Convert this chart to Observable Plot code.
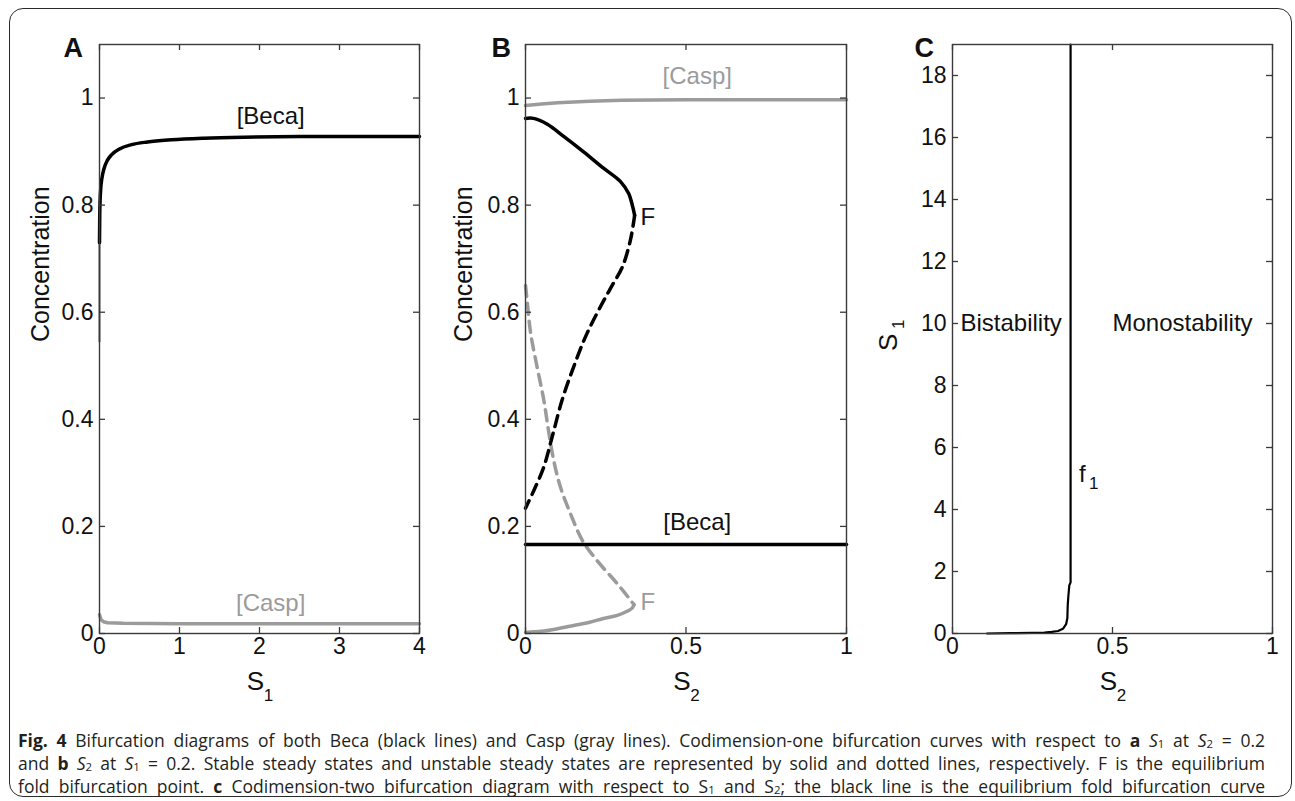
<!DOCTYPE html>
<html><head><meta charset="utf-8">
<script src="https://cdn.jsdelivr.net/npm/d3@7"></script>
<script src="https://cdn.jsdelivr.net/npm/@observablehq/plot@0.6"></script>
<style>
html,body{margin:0;padding:0;background:#fff;}
body{width:1295px;height:801px;position:relative;overflow:hidden;font-family:Arial,"Liberation Sans",sans-serif;}
#border{position:absolute;left:9px;top:8px;width:1283px;height:789px;border:1.6px solid #2a2a2a;border-radius:14px;box-sizing:border-box;}
.panel{position:absolute;top:10px;}
#caption{position:absolute;left:18px;top:729px;width:1247px;font-family:"Open Sans","Noto Sans",sans-serif;font-size:16px;line-height:23px;color:#231f20;}
#caption div{white-space:nowrap;text-align:left;height:23px;overflow:visible;}
#caption.just div{text-align:justify;text-align-last:justify;}
#caption sub{font-size:65%;vertical-align:-0.12em;line-height:0;}
</style></head>
<body>
<div id="border"></div>
<div id="pA" class="panel" style="left:12px"></div>
<div id="pB" class="panel" style="left:432px"></div>
<div id="pC" class="panel" style="left:862px"></div>
<div id="caption">
<div><span><b>Fig. 4</b> Bifurcation diagrams of both Beca (black lines) and Casp (gray lines). Codimension-one bifurcation curves with respect to <b>a</b> <i>S</i><sub>1</sub> at <i>S</i><sub>2</sub> = 0.2</span></div>
<div><span>and <b>b</b> <i>S</i><sub>2</sub> at <i>S</i><sub>1</sub> = 0.2. Stable steady states and unstable steady states are represented by solid and dotted lines, respectively. F is the equilibrium</span></div>
<div><span>fold bifurcation point. <b>c</b> Codimension-two bifurcation diagram with respect to S<sub>1</sub> and S<sub>2</sub>; the black line is the equilibrium fold bifurcation curve</span></div>
</div>
<script>
// ---------- Panel A data (x = S1, S2 = 0.2) ----------
const aXTicks = [0, 1, 2, 3, 4];
const concTicks = [0, 0.2, 0.4, 0.6, 0.8, 1];
const aBecaS1 = [0, 0.003, 0.008, 0.015, 0.03, 0.06, 0.1, 0.15, 0.25, 0.4, 0.6, 0.9, 1.3, 1.8, 2.5, 3.2, 4];
const aBeca   = [0.73, 0.78, 0.81, 0.83, 0.85, 0.87, 0.884, 0.894, 0.905, 0.913, 0.918, 0.922, 0.925, 0.927, 0.928, 0.928, 0.928];
const aBecaThinS1 = [0, 0];
const aBecaThin   = [0.545, 0.73];
const aCaspS1 = [0, 0.02, 0.05, 0.1, 0.3, 1, 2, 3, 4];
const aCasp   = [0.035, 0.026, 0.022, 0.02, 0.019, 0.018, 0.018, 0.018, 0.018];

// ---------- Panel B data (x = S2, S1 = 0.2) ----------
const bXTicks = [0, 0.5, 1];
const bCaspHiS2 = [0, 0.05, 0.1, 0.2, 0.3, 0.5, 1];
const bCaspHi   = [0.986, 0.989, 0.991, 0.994, 0.996, 0.997, 0.997];
const bBecaHiS2 = [0, 0.025, 0.068, 0.12, 0.18, 0.243, 0.296, 0.321, 0.334, 0.34];
const bBecaHi   = [0.962, 0.962, 0.951, 0.928, 0.90, 0.869, 0.844, 0.822, 0.797, 0.781];
const bBecaUnS2 = [0.34, 0.327, 0.302, 0.27, 0.244, 0.192, 0.15, 0.114, 0.083, 0.057, 0.026, 0];
const bBecaUn   = [0.781, 0.735, 0.685, 0.65, 0.622, 0.561, 0.498, 0.436, 0.367, 0.311, 0.267, 0.234];
const bCaspUnS2 = [0, 0.005, 0.016, 0.036, 0.057, 0.073, 0.088, 0.109, 0.14, 0.177, 0.223, 0.286, 0.338];
const bCaspUn   = [0.65, 0.622, 0.561, 0.498, 0.436, 0.374, 0.323, 0.273, 0.224, 0.174, 0.136, 0.093, 0.054];
const bCaspLoS2 = [0.338, 0.333, 0.315, 0.286, 0.243, 0.2, 0.15, 0.1, 0.05, 0];
const bCaspLo   = [0.054, 0.048, 0.041, 0.034, 0.028, 0.021, 0.015, 0.009, 0.004, 0.002];
const bBecaLoS2 = [0, 1];
const bBecaLo   = [0.166, 0.166];

// ---------- Panel C data (fold curve f1 in S2-S1 plane) ----------
const cXTicks = [0, 0.5, 1];
const cYTicks = [0, 2, 4, 6, 8, 10, 12, 14, 16, 18];
const cFoldS2 = [0.108, 0.18, 0.25, 0.287, 0.31, 0.33, 0.345, 0.355, 0.359, 0.36, 0.362, 0.365, 0.369, 0.369];
const cFoldS1 = [0.0, 0.01, 0.02, 0.03, 0.05, 0.08, 0.15, 0.3, 0.5, 0.9, 1.2, 1.55, 1.65, 19];

const GRAY = "#9b9b9b";
const FONT = "Arial, 'Liberation Sans', sans-serif";
const pts = (xs, ys) => xs.map((x, i) => ({x, y: ys[i]}));

function panel({width, marginLeft, marginRight, xDomain, yDomain, xTicks, yTicks, marks}) {
  const H = 700, mt = 34, mb = 77;
  const fh = H - mt - mb, fw = width - marginLeft - marginRight;
  const fmt = d => `${d}`;
  return Plot.plot({
    width, height: H, marginLeft, marginRight, marginTop: mt, marginBottom: mb,
    x: {domain: xDomain}, y: {domain: yDomain},
    style: {background: "transparent", fontFamily: FONT, fontSize: "23px", color: "#111", overflow: "visible"},
    marks: [
      ...marks,
      Plot.frame({stroke: "#3a3a3a", strokeWidth: 1.4}),
      Plot.tickX(xTicks, {x: d => d, insetTop: fh - 6, stroke: "#3a3a3a", strokeWidth: 1.3}),
      Plot.tickX(xTicks, {x: d => d, insetBottom: fh - 6, stroke: "#3a3a3a", strokeWidth: 1.3}),
      Plot.tickY(yTicks, {y: d => d, insetRight: fw - 6, stroke: "#3a3a3a", strokeWidth: 1.3}),
      Plot.tickY(yTicks, {y: d => d, insetLeft: fw - 6, stroke: "#3a3a3a", strokeWidth: 1.3}),
      Plot.axisX(xTicks, {tickSize: 0, tickPadding: 4, tickFormat: fmt, label: null, fontSize: 23}),
      Plot.axisY(yTicks, {tickSize: 0, tickPadding: 6, tickFormat: fmt, label: null, fontSize: 23})
    ]
  });
}

const lbl = (t, o) => Plot.text([t], {text: d => d, fill: "#111", fontSize: 24, ...o});

// Panel A
document.getElementById("pA").append(panel({
  width: 418, marginLeft: 87, marginRight: 11,
  xDomain: [0, 4], yDomain: [0, 1.1], xTicks: aXTicks, yTicks: concTicks,
  marks: [
    Plot.line(pts(aCaspS1, aCasp), {x: "x", y: "y", stroke: GRAY, strokeWidth: 3.5}),
    Plot.line(pts(aBecaThinS1, aBecaThin), {x: "x", y: "y", stroke: "#000", strokeWidth: 1.6}),
    Plot.line(pts(aBecaS1, aBeca), {x: "x", y: "y", stroke: "#000", strokeWidth: 3.5, curve: "monotone-x"}),
    lbl("[Beca]", {x: 2.14, y: 0.965}),
    lbl("[Casp]", {x: 2.14, y: 0.056, fill: GRAY}),
    lbl("A", {frameAnchor: "top-left", dx: -36, dy: -7, fontWeight: "bold", fontSize: 27}),
    lbl("Concentration", {frameAnchor: "left", rotate: -90, dx: -59, dy: 3, fontSize: 25}),
    lbl("S", {frameAnchor: "bottom", dx: -4, dy: 56, fontSize: 26}),
    lbl("1", {frameAnchor: "bottom", dx: 9, dy: 67, fontSize: 17})
  ]
}));

// Panel B
document.getElementById("pB").append(panel({
  width: 428, marginLeft: 93, marginRight: 14,
  xDomain: [0, 1], yDomain: [0, 1.1], xTicks: bXTicks, yTicks: concTicks,
  marks: [
    Plot.line(pts(bCaspHiS2, bCaspHi), {x: "x", y: "y", stroke: GRAY, strokeWidth: 3.5}),
    Plot.line(pts(bCaspUnS2, bCaspUn), {x: "x", y: "y", stroke: GRAY, strokeWidth: 3.5, strokeDasharray: "11,7", curve: "catmull-rom"}),
    Plot.line(pts(bCaspLoS2, bCaspLo), {x: "x", y: "y", stroke: GRAY, strokeWidth: 3.5, curve: "catmull-rom"}),
    Plot.line(pts(bBecaLoS2, bBecaLo), {x: "x", y: "y", stroke: "#000", strokeWidth: 3.5}),
    Plot.line(pts(bBecaHiS2, bBecaHi), {x: "x", y: "y", stroke: "#000", strokeWidth: 3.5, curve: "catmull-rom"}),
    Plot.line(pts(bBecaUnS2, bBecaUn), {x: "x", y: "y", stroke: "#000", strokeWidth: 3.5, strokeDasharray: "11,7", curve: "catmull-rom"}),
    lbl("[Casp]", {x: 0.535, y: 1.04, fill: GRAY}),
    lbl("[Beca]", {x: 0.535, y: 0.207}),
    lbl("F", {x: 0.358, y: 0.778, textAnchor: "start"}),
    lbl("F", {x: 0.358, y: 0.058, textAnchor: "start", fill: GRAY}),
    lbl("B", {frameAnchor: "top-left", dx: -34, dy: -7, fontWeight: "bold", fontSize: 27}),
    lbl("Concentration", {frameAnchor: "left", rotate: -90, dx: -62, dy: 3, fontSize: 25}),
    lbl("S", {frameAnchor: "bottom", dx: -4, dy: 56, fontSize: 26}),
    lbl("2", {frameAnchor: "bottom", dx: 9, dy: 67, fontSize: 17})
  ]
}));

// Panel C
document.getElementById("pC").append(panel({
  width: 424, marginLeft: 90, marginRight: 14,
  xDomain: [0, 1], yDomain: [0, 19], xTicks: cXTicks, yTicks: cYTicks,
  marks: [
    Plot.line(pts(cFoldS2, cFoldS1), {x: "x", y: "y", stroke: "#000", strokeWidth: 2.2}),
    lbl("Bistability", {x: 0.025, y: 10, textAnchor: "start"}),
    lbl("Monostability", {x: 0.5, y: 10, textAnchor: "start"}),
    lbl("f", {x: 0.395, y: 5.15, textAnchor: "start"}),
    lbl("1", {x: 0.395, y: 5.15, textAnchor: "start", dx: 10, dy: 10, fontSize: 17}),
    lbl("C", {frameAnchor: "top-left", dx: -38, dy: -7, fontWeight: "bold", fontSize: 27}),
    lbl("S", {frameAnchor: "left", rotate: -90, dx: -64, dy: 12, fontSize: 26}),
    lbl("1", {frameAnchor: "left", rotate: -90, dx: -54, dy: -10, fontSize: 17}),
    lbl("S", {frameAnchor: "bottom", dx: -4, dy: 56, fontSize: 26}),
    lbl("2", {frameAnchor: "bottom", dx: 9, dy: 67, fontSize: 17})
  ]
}));

// Fit the caption font so its longest line fills the caption width, then justify
(function fitCaption() {
  const cap = document.getElementById("caption");
  const spans = [...cap.querySelectorAll("span")];
  const maxW = Math.max(...spans.map(s => s.getBoundingClientRect().width));
  const size = Math.min(17.5, 16 * 1225 / maxW);
  cap.style.fontSize = size.toFixed(2) + "px";
  cap.classList.add("just");
})();
</script>
</body></html>
